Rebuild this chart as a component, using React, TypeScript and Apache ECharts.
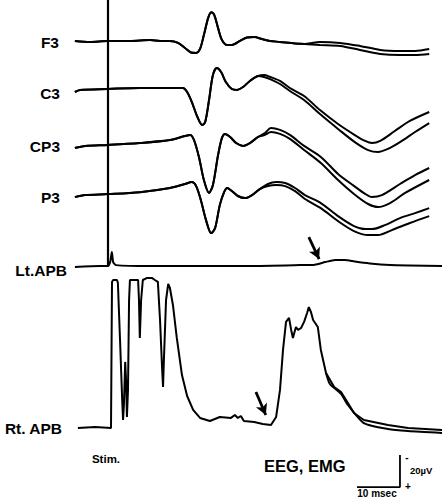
import React, { useEffect, useRef } from "react";
import * as echarts from "echarts";

// Channel names (top to bottom) and their stacking offsets (µV display units, negative = up)
const CHANNELS = ["F3", "C3", "CP3", "P3", "Lt.APB", "Rt. APB"];
const OFFSETS = [25.6, 55, 90.6, 121.3, 166.3, 267.5];

// Each trace: [time (ms, stimulus at 0), amplitude (µV, negative up)]
const F3_COMMON = [
  [-7.7, 0], [-4.2, 0.6], [0, 0], [5.1, 0], [9.8, -0.6], [12.1, 0], [14.4, 0], [16.3, 1.2],
  [17.9, 4.4], [19.3, 7.2], [20.5, 7.5], [21.4, 5], [22.3, -3.8], [23.3, -14.4], [24.0, -18],
  [24.7, -16.3], [25.6, -8], [26.5, -0.6], [27.7, 2.5], [28.8, 2.5], [30.7, 0], [32.3, -2.2],
  [34.0, -2.5], [35.8, -1.2], [37.7, 0], [40.0, 0.6], [43.5, 1.6], [45.6, 1.9],
];
const F3_A = [[49.3, 0.6], [54.0, 1.2], [58.6, 3.1], [63.3, 5.6], [67.9, 6.2], [71.4, 6.2], [74.7, 5]];
const F3_B = [[49.3, 2.5], [54.0, 3.1], [58.6, 5.6], [63.3, 8.1], [67.9, 8.8], [71.4, 8.8], [74.7, 8.1]];

const C3_COMMON = [
  [-7.7, 2.5], [-6.5, 1.2], [0, 0.6], [7.4, 0], [17.4, 0], [18.4, 2.5], [19.5, 8.8], [20.7, 17.5],
  [21.9, 23.1], [22.6, 21.3], [23.5, 7.5], [24.4, -8.1], [25.3, -12.5], [26.3, -10], [27.4, -3.8],
  [28.8, 0.6], [30.0, 1.2], [31.4, -0.6], [33.0, -4.4], [34.9, -7.5],
];
const C3_A = [
  [36.3, -8.1], [37.7, -6.9], [40.0, -4.4], [42.3, 0], [45.6, 5], [49.3, 13.8], [53.5, 22.5],
  [57.4, 29.4], [59.8, 33.1], [61.4, 34.4], [63.3, 33.1], [66.7, 26.9], [70.2, 20.6], [74.7, 15],
];
const C3_B = [
  [36.3, -6.9], [37.7, -5.6], [40.0, -2.5], [42.3, 1.9], [45.6, 7.5], [49.3, 16.3], [53.5, 25.6],
  [57.4, 33.8], [60.5, 38.8], [62.8, 40], [65.1, 38.1], [67.9, 33.8], [71.4, 27.5], [74.7, 21.9],
];

const CP3_COMMON = [
  [-7.7, 1.9], [-5.3, 0.6], [0, 0], [7.4, -1.2], [14.4, -3.1], [17.9, -5.6], [19.1, -6.3],
  [20.0, -3.1], [21.2, 8.1], [22.3, 21.9], [23.5, 30], [24.4, 25], [25.6, 6.3], [26.5, -4.4],
  [27.2, -6.9], [28.4, -5], [29.8, -1.2], [31.4, 0.6], [33.0, -1.2], [34.9, -5],
];
const CP3_A = [
  [36.5, -7.5], [37.9, -10.6], [40.0, -9.4], [42.3, -6.3], [45.6, 0.6], [49.5, 7.5], [53.5, 18.1],
  [57.2, 25.6], [59.8, 30.6], [61.4, 32.5], [63.7, 31.3], [67.9, 24.4], [71.4, 18.8], [74.7, 14.4],
];
const CP3_B = [
  [36.5, -6.3], [37.9, -8.1], [40.0, -6.9], [42.3, -3.8], [45.6, 3.1], [49.5, 11.3], [53.5, 21.9],
  [57.2, 30.6], [60.5, 36.9], [62.8, 38.8], [65.6, 36.3], [69.1, 30], [74.7, 21.9],
];

const P3_COMMON = [
  [-7.7, 1.9], [-5.3, 0.6], [0, 0], [7.4, -1.2], [14.4, -3.8], [17.9, -6.3], [19.5, -7.5],
  [20.5, -5], [21.6, 3.8], [22.8, 16.3], [24.0, 24.4], [24.9, 21.3], [26.0, 6.9], [27.0, -1.2],
  [27.7, -3.8], [28.8, -1.9], [30.2, 1.2], [31.9, 2.5], [33.5, 0.6], [35.3, -3.1],
];
const P3_A = [
  [37.2, -6.3], [39.1, -7.5], [41.2, -6.9], [43.5, -3.8], [45.8, 0.6], [49.5, 5.6], [53.5, 13.8],
  [57.2, 20], [59.8, 21.9], [61.4, 21.9], [64.4, 19.4], [67.9, 15], [71.4, 11.9], [74.7, 8.8],
];
const P3_B = [
  [37.2, -5], [39.1, -5.6], [41.2, -5], [43.5, -1.9], [45.8, 3.1], [49.5, 8.8], [53.5, 16.9],
  [57.2, 23.1], [60.5, 25.6], [62.8, 25.6], [66.0, 22.5], [70.2, 18.1], [74.7, 13.8],
];

const LT_APB = [
  [-7.7, 0.6], [-1.9, 0], [0, 0], [0.5, -2.5], [0.9, -8.8], [1.2, -2.5], [1.9, -0.6], [9.8, 0],
  [21.4, 0], [33, 0], [44.7, -0.6], [48.1, -0.9], [50.5, -2.5], [52.8, -3.8], [55.1, -3.8],
  [57.4, -2.8], [60.9, -1.6], [65.6, -0.6], [70.2, -0.3], [77.7, 0],
];

const RT_APB = [
  [-7.0, 0], [-3.0, -0.6], [0.7, 0], [0.93, -91.3], [1.2, -92.5], [2.1, -92.5], [2.3, -90.6],
  [2.8, -55], [3.3, -17.5], [3.5, -5], [3.7, -14.4], [4.0, -41.3], [4.2, -30], [4.4, -6.9],
  [4.65, -23.8], [4.9, -80], [5.1, -92.5], [7.0, -92.5], [7.2, -80], [7.4, -56.3], [7.7, -80],
  [8.1, -92.5], [9.1, -93.8], [10.2, -93.8], [10.9, -92.5], [11.6, -91.3], [12.1, -67.5],
  [12.6, -36.3], [12.8, -25.6], [13.0, -42.5], [13.5, -80], [14.0, -90], [14.4, -87.5],
  [15.1, -76.9], [16.0, -56.3], [17.2, -33.1], [18.4, -20], [19.8, -11.3], [21.4, -6.3],
  [23.7, -4.4], [26.0, -6.9], [28.6, -6.3], [29.5, -8.1], [30.2, -6.3], [30.9, -7.5],
  [31.6, -4.4], [34.0, -3.8], [36.0, -2.5], [37.9, -1.9], [39.1, -6.9], [40.0, -23.8],
  [40.7, -48.8], [41.4, -66.3], [42.1, -68.8], [42.6, -61.3], [43.0, -56.3], [43.7, -63.1],
  [44.2, -61.3], [44.9, -62.5], [45.6, -66.3], [46.3, -71.9], [46.7, -75.6], [47.2, -72.5],
  [47.7, -67.5], [48.8, -63.1], [49.5, -48.8], [50.7, -34.4], [52.6, -25.6], [54.2, -22.5],
  [55.8, -15.6], [57.2, -9.4], [59.5, -5], [65.1, -1.9], [69.8, 0], [77.7, 1.3],
];
const RT_APB_B = [
  [50.7, -34.4], [51.6, -27.5], [54.2, -21.3], [55.8, -14.4], [59.5, -3.1], [65.1, 0.6],
  [69.8, 1.9], [77.7, 3.1],
];

const STIM_TIME = 0;
// Arrows: channel index, tail and tip [ms, µV]
const ARROWS = [
  { ch: 4, from: [46.7, -18.1], to: [49.1, -4.4] },
  { ch: 5, from: [34.4, -22.5], to: [36.7, -8.1] },
];
// Calibration: 10 msec, 20 µV
const CAL_MS = 10;
const CAL_UV = 20;
const CAL_AT = [57.9, 304.4];

const TRACES: { ch: number; data: number[][]; smooth: number }[] = [
  { ch: 0, data: [...F3_COMMON, ...F3_A], smooth: 0.3 },
  { ch: 0, data: [...F3_COMMON, ...F3_B], smooth: 0.3 },
  { ch: 1, data: [...C3_COMMON, ...C3_A], smooth: 0.3 },
  { ch: 1, data: [...C3_COMMON, ...C3_B], smooth: 0.3 },
  { ch: 2, data: [...CP3_COMMON, ...CP3_A], smooth: 0.3 },
  { ch: 2, data: [...CP3_COMMON, ...CP3_B], smooth: 0.3 },
  { ch: 3, data: [...P3_COMMON, ...P3_A], smooth: 0.3 },
  { ch: 3, data: [...P3_COMMON, ...P3_B], smooth: 0.3 },
  { ch: 4, data: LT_APB, smooth: 0.2 },
  { ch: 5, data: RT_APB, smooth: 0 },
  { ch: 5, data: RT_APB_B, smooth: 0.2 },
];

const FONT = "'Liberation Sans', Arial, Helvetica, sans-serif";

export default function App() {
  const ref = useRef<HTMLDivElement>(null);
  useEffect(() => {
    if (!ref.current) return;
    const chart = echarts.init(ref.current, undefined, { renderer: "svg" });
    const lineSeries: any[] = TRACES.map((tr, i) => ({
      type: "line",
      name: CHANNELS[tr.ch] + "-" + i,
      data: tr.data.map(([t, v]) => [t, OFFSETS[tr.ch] + v]),
      showSymbol: false,
      smooth: tr.smooth,
      lineStyle: { color: "#000", width: 2 },
      silent: true,
      z: 3,
    }));
    lineSeries.push({
      type: "line",
      name: "stim",
      data: [[STIM_TIME, 0], [STIM_TIME, OFFSETS[4]]],
      showSymbol: false,
      lineStyle: { color: "#000", width: 2.2 },
      silent: true,
    });
    lineSeries.push({
      type: "line",
      name: "calibration",
      data: [
        [CAL_AT[0], CAL_AT[1]],
        [CAL_AT[0] + CAL_MS, CAL_AT[1]],
        [CAL_AT[0] + CAL_MS, CAL_AT[1] - CAL_UV],
      ],
      showSymbol: false,
      lineStyle: { color: "#000", width: 1.8 },
      silent: true,
    });
    lineSeries.push({
      type: "line",
      name: "arrows",
      data: [],
      markLine: {
        silent: true,
        symbol: ["none", "arrow"],
        symbolSize: [9, 11],
        label: { show: false },
        lineStyle: { color: "#000", width: 2.8, type: "solid" },
        data: ARROWS.map((a) => [
          { coord: [a.from[0], OFFSETS[a.ch] + a.from[1]] },
          { coord: [a.to[0], OFFSETS[a.ch] + a.to[1]] },
        ]),
      },
    });

    const labelY = [42, 93, 146, 197, 270, 428];
    const labelRight = [59, 60, 60, 60, 67, 62];
    const labels = CHANNELS.map((c, i) => ({
      type: "text",
      x: labelRight[i],
      y: labelY[i],
      style: {
        text: c,
        fill: "#000",
        font: `bold 15.5px ${FONT}`,
        align: "right",
        verticalAlign: "middle",
      },
    }));

    chart.setOption({
      animation: false,
      grid: { left: 0, right: 0, top: 0, bottom: 0, containLabel: false },
      xAxis: { type: "value", min: -108 / 4.3, max: 334 / 4.3, show: false },
      yAxis: { type: "value", min: 0, max: 312.5, inverse: true, show: false },
      series: lineSeries,
      graphic: [
        ...labels,
        {
          type: "text", x: 106, y: 459,
          style: { text: "Stim.", fill: "#000", font: `bold 11.5px ${FONT}`, align: "center", verticalAlign: "middle" },
        },
        {
          type: "text", x: 264, y: 466,
          style: { text: "EEG, EMG", fill: "#000", font: `bold 16.5px ${FONT}`, align: "left", verticalAlign: "middle" },
        },
        {
          type: "text", x: 410, y: 470,
          style: { text: "20µV", fill: "#000", font: `bold 9.5px ${FONT}`, align: "left", verticalAlign: "middle" },
        },
        {
          type: "text", x: 377, y: 493,
          style: { text: "10 msec", fill: "#000", font: `bold 10px ${FONT}`, align: "center", verticalAlign: "middle" },
        },
        {
          type: "text", x: 407, y: 457,
          style: { text: "-", fill: "#000", font: `bold 10px ${FONT}`, align: "center", verticalAlign: "middle" },
        },
        {
          type: "text", x: 408, y: 486,
          style: { text: "+", fill: "#000", font: `bold 10px ${FONT}`, align: "center", verticalAlign: "middle" },
        },
      ],
    });
    return () => chart.dispose();
  }, []);
  return (
    <div
      ref={ref}
      style={{ position: "absolute", left: 0, top: 0, width: 442, height: 500, background: "#fff" }}
    />
  );
}
